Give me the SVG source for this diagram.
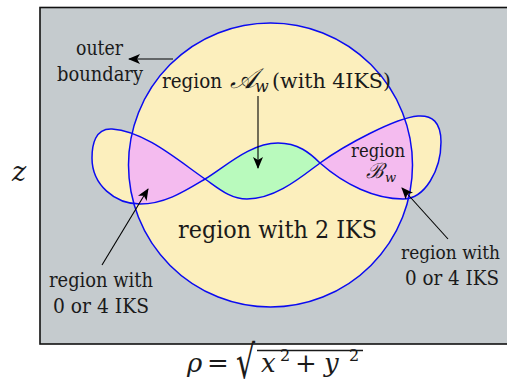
<svg xmlns="http://www.w3.org/2000/svg" width="507" height="391" viewBox="0 0 507 391">
<style>
text{font-family:'DejaVu Serif',serif;fill:#1a1a1a}
.i{font-style:italic}
.b{fill:none;stroke:#0b0bf0;stroke-width:1.5}
.a{stroke:#000;stroke-width:1.1;fill:none;marker-end:url(#ah)}
</style>
<defs>
<marker id="ah" viewBox="0 0 12 10" refX="11" refY="5" markerWidth="12" markerHeight="10" markerUnits="userSpaceOnUse" orient="auto">
<path d="M0,0 L12,5 L0,10 L3,5 Z" fill="#000"/>
</marker>
<clipPath id="cc"><circle cx="270.5" cy="165" r="142"/></clipPath>
<path id="eight" d="M205,179 C225,167 250,143 278,143 C298,143 310,153 320,163 C345,185 375,199 403,199 C425,199 441,170 441,142 C441,122 432,115 418,116 C395,118 345,145 320,163 C300,178 275,199 247,199 C230,199 218,188 205,179 C180,162 145,131 112,129 C95,128 92,145 92,158 C92,185 115,204 140,204 C165,204 185,191 205,179 Z"/>
</defs>
<g id="frame">
<rect x="40" y="7.5" width="480" height="336.5" fill="#c5cbce" stroke="#111" stroke-width="1.6"/>
</g>
<g id="regions">
<circle cx="270.5" cy="165" r="142" fill="#fcefbd"/>
<use href="#eight" fill="#fcefbd"/>
<use href="#eight" fill="#f4bbef" clip-path="url(#cc)"/>
<path id="green" d="M205,179 C225,167 250,143 278,143 C298,143 310,153 320,163 C300,178 275,199 247,199 C230,199 218,188 205,179 Z" fill="#b9fabd"/>
</g>
<g id="boundaries">
<circle id="outer-boundary" class="b" cx="270.5" cy="165" r="142"/>
<use id="eight-curve" href="#eight" class="b"/>
</g>
<g id="connectors">
<line class="a" x1="173" y1="59" x2="129" y2="59"/>
<line class="a" x1="258" y1="96" x2="258" y2="168"/>
<line class="a" x1="102" y1="265" x2="148" y2="189"/>
<line class="a" x1="448" y1="239" x2="402" y2="188"/>
</g>
<g id="label-outer">
<text x="76" y="55" font-size="20" textLength="47" lengthAdjust="spacingAndGlyphs">outer</text>
<text x="57" y="81" font-size="20" textLength="86" lengthAdjust="spacingAndGlyphs">boundary</text>
</g>
<g id="label-A">
<text x="162" y="88" font-size="21" textLength="60" lengthAdjust="spacingAndGlyphs">region</text>
<text class="i" x="230" y="88" font-size="28">𝒜</text>
<text class="i" x="255" y="92" font-size="16">w</text>
<text x="272" y="88" font-size="21" textLength="119" lengthAdjust="spacingAndGlyphs">(with 4IKS)</text>
</g>
<g id="label-B">
<text x="351" y="157" font-size="18" textLength="54" lengthAdjust="spacingAndGlyphs">region</text>
<text class="i" x="366" y="178" font-size="21">ℬ</text>
<text class="i" x="385" y="182" font-size="13">w</text>
</g>
<g id="label-2">
<text x="178" y="238" font-size="24" textLength="199" lengthAdjust="spacingAndGlyphs">region with 2 IKS</text>
</g>
<g id="label-left">
<text x="49" y="287" font-size="20" textLength="104" lengthAdjust="spacingAndGlyphs">region with</text>
<text x="53" y="313" font-size="20" textLength="96" lengthAdjust="spacingAndGlyphs">0 or 4 IKS</text>
</g>
<g id="label-right">
<text x="401" y="259" font-size="19" textLength="99" lengthAdjust="spacingAndGlyphs">region with</text>
<text x="405" y="285" font-size="20" textLength="94" lengthAdjust="spacingAndGlyphs">0 or 4 IKS</text>
</g>
<g id="axis-z">
<text class="i" x="12" y="181" font-size="27">z</text>
</g>
<g id="axis-rho">
<text class="i" x="187" y="372" font-size="26">ρ</text>
<text x="207" y="372" font-size="26">=</text>
<text x="236" y="378" font-size="30" transform="translate(0,-200) scale(1,1.53)">√</text>
<line x1="257" y1="350.5" x2="363" y2="350.5" stroke="#1a1a1a" stroke-width="1.3"/>
<text class="i" x="261" y="372" font-size="26">x</text>
<text x="280" y="361" font-size="16">2</text>
<text x="295" y="372" font-size="26">+</text>
<text class="i" x="324" y="372" font-size="26">y</text>
<text x="349" y="361" font-size="16">2</text>
</g>
</svg>
